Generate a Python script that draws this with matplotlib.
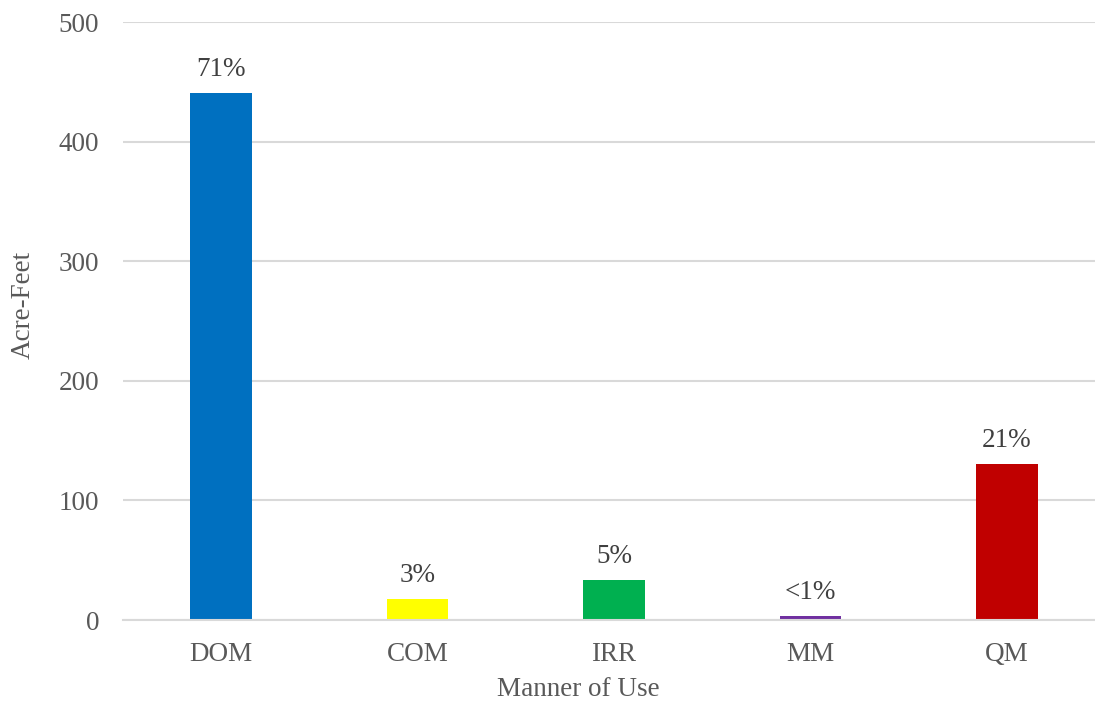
import matplotlib
matplotlib.use("Agg")
import matplotlib.pyplot as plt

categories = ["DOM", "COM", "IRR", "MM", "QM"]
values = [440.6, 17.5, 33.4, 3.3, 130.4]
labels = ["71%", "3%", "5%", "<1%", "21%"]
colors = ["#0070C0", "#FFFF00", "#00B050", "#7030A0", "#C00000"]
yticks = [0, 100, 200, 300, 400, 500]

plt.rcParams['font.family'] = ['Liberation Serif', 'DejaVu Serif']
txt = "#595959"
fs = 19.5

fig = plt.figure(figsize=(10.95, 7.04), dpi=100)
ax = fig.add_axes([122.75/1095, (704-620)/704, 982.5/1095, (620-22)/704])

x = range(len(categories))
bars = ax.bar(x, values, width=0.315, color=colors, zorder=3)
for xi, v, lab in zip(x, values, labels):
    ax.annotate(lab, (xi, v), xytext=(0, 8), textcoords="offset points",
                ha="center", va="bottom", fontsize=fs, color="#404040")

ax.set_xlim(-0.5, len(categories) - 0.5)
ax.set_ylim(0, 500)
ax.set_yticks(yticks)
ax.set_xticks(list(x))
ax.set_xticklabels(categories)
ax.yaxis.grid(True, color="#D9D9D9", linewidth=1.5, zorder=0)
ax.tick_params(axis="both", length=0, labelsize=fs, labelcolor=txt)
ax.tick_params(axis="y", pad=17)
ax.tick_params(axis="x", pad=16)
for s in ["top", "right", "left"]:
    ax.spines[s].set_visible(False)
ax.spines["bottom"].set_color("#D9D9D9")
ax.spines["bottom"].set_linewidth(1.5)
ax.spines["bottom"].set_zorder(4)

ax.set_ylabel("Acre-Feet", fontsize=fs, color=txt)
ax.set_xlabel("Manner of Use", fontsize=fs, color=txt)
ax.yaxis.set_label_coords(-87/982.5, (620-305)/598)
ax.xaxis.set_label_coords((578-122.75)/982.5, -(690-620)/598)
ax.xaxis.label.set_va("center")

fig.savefig("out.png", dpi=100)
